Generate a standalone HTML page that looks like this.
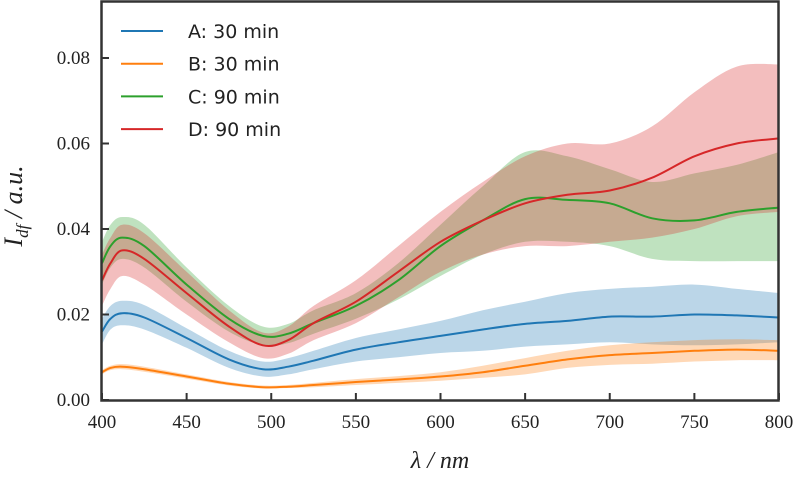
<!DOCTYPE html>
<html><head><meta charset="utf-8"><style>
body{margin:0;background:#fff;}
svg text{font-family:"Liberation Serif",serif;fill:#222;}
.leg{font-family:"DejaVu Sans","Liberation Sans",sans-serif;font-size:19px;}
</style></head><body>
<svg id="chart" width="798" height="474" viewBox="0 0 798 474">
<g id="bands"></g><g id="lines"></g>
<rect x="101.5" y="1.5" width="677" height="399" fill="none" stroke="#333" stroke-width="2.5"/>
<g id="ticks"></g>
<text x="16" y="200" font-size="26" font-style="italic" text-anchor="middle" transform="rotate(-90 22 200)">I<tspan font-size="17" dy="6">df</tspan><tspan dy="-6"> / a.u.</tspan></text>
<text x="440" y="468" font-size="24" font-style="italic" text-anchor="middle">λ / nm</text>
<g id="legend"></g>
</svg>
<script>
const wavelengths=[400,405,412,425,450,475,495,510,525,550,575,600,625,650,675,700,725,750,775,800];
const seriesNames=["A: 30 min","B: 30 min","C: 90 min","D: 90 min"];
const colors=["#1f77b4","#ff7f0e","#2ca02c","#d62728"];
const meanA=[0.016,0.019,0.0203,0.0193,0.0145,0.0095,0.0072,0.0078,0.0092,0.0118,0.0135,0.0150,0.0165,0.0178,0.0185,0.0195,0.0195,0.0200,0.0198,0.0193];
const loA=[0.013,0.0165,0.0175,0.0165,0.0122,0.0075,0.0055,0.006,0.0072,0.009,0.010,0.011,0.0115,0.0125,0.013,0.0135,0.013,0.0128,0.013,0.0135];
const hiA=[0.019,0.022,0.0232,0.0222,0.0168,0.0115,0.009,0.0098,0.0115,0.0145,0.0165,0.0185,0.021,0.023,0.025,0.026,0.0265,0.027,0.026,0.025];
const meanB=[0.0065,0.0075,0.0078,0.0072,0.0055,0.0038,0.003,0.0031,0.0035,0.0042,0.0048,0.0055,0.0065,0.008,0.0095,0.0105,0.011,0.0115,0.0118,0.0115];
const loB=[0.006,0.007,0.0072,0.0066,0.005,0.0034,0.0027,0.0028,0.003,0.0035,0.004,0.0045,0.0052,0.006,0.0075,0.0082,0.0085,0.009,0.0093,0.0093];
const hiB=[0.007,0.008,0.0084,0.0078,0.006,0.0042,0.0034,0.0035,0.004,0.0049,0.0056,0.0065,0.008,0.0098,0.0115,0.0128,0.0135,0.014,0.0142,0.014];
const meanC=[0.032,0.036,0.038,0.036,0.027,0.019,0.015,0.0155,0.018,0.022,0.028,0.036,0.042,0.047,0.0468,0.046,0.0425,0.042,0.044,0.045];
const loC=[0.027,0.031,0.033,0.031,0.023,0.016,0.0128,0.0133,0.0155,0.019,0.0235,0.029,0.034,0.037,0.037,0.036,0.033,0.0325,0.0325,0.0325];
const hiC=[0.037,0.041,0.0428,0.041,0.031,0.022,0.0172,0.0178,0.021,0.025,0.032,0.041,0.050,0.058,0.057,0.054,0.051,0.053,0.055,0.058];
const meanD=[0.028,0.032,0.035,0.033,0.025,0.0172,0.0128,0.014,0.018,0.023,0.030,0.037,0.042,0.046,0.048,0.049,0.052,0.057,0.060,0.0612];
const loD=[0.022,0.026,0.029,0.027,0.02,0.0135,0.0098,0.0108,0.014,0.018,0.024,0.030,0.034,0.036,0.036,0.037,0.038,0.040,0.043,0.044];
const hiD=[0.034,0.038,0.041,0.039,0.030,0.021,0.0158,0.0172,0.022,0.028,0.036,0.044,0.051,0.057,0.060,0.060,0.064,0.072,0.078,0.0785];
const xTicks=[400,450,500,550,600,650,700,750,800];
const yTicks=[0,0.02,0.04,0.06,0.08];
const yTickLabels=["0.00","0.02","0.04","0.06","0.08"];

const NS="http://www.w3.org/2000/svg";
const X=v=>102+(v-400)*(677/400);
const Y=v=>400-v*4275;
function curve(pts){
  let d="M"+pts[0][0].toFixed(1)+","+pts[0][1].toFixed(1);
  for(let i=0;i<pts.length-1;i++){
    const p0=pts[Math.max(i-1,0)],p1=pts[i],p2=pts[i+1],p3=pts[Math.min(i+2,pts.length-1)];
    const c1=[p1[0]+(p2[0]-p0[0])/6,p1[1]+(p2[1]-p0[1])/6];
    const c2=[p2[0]-(p3[0]-p1[0])/6,p2[1]-(p3[1]-p1[1])/6];
    d+=` C${c1[0].toFixed(1)},${c1[1].toFixed(1)} ${c2[0].toFixed(1)},${c2[1].toFixed(1)} ${p2[0].toFixed(1)},${p2[1].toFixed(1)}`;
  }
  return d;
}
const all=[[meanA,loA,hiA],[meanB,loB,hiB],[meanC,loC,hiC],[meanD,loD,hiD]];
const bands=document.getElementById("bands"),lines=document.getElementById("lines");
all.forEach((s,k)=>{
  const hi=wavelengths.map((w,i)=>[X(w),Y(s[2][i])]);
  const lo=wavelengths.map((w,i)=>[X(w),Y(s[1][i])]).reverse();
  const b=document.createElementNS(NS,"path");
  b.setAttribute("d",curve(hi)+" L"+curve(lo).slice(1)+" Z");
  b.setAttribute("fill",colors[k]);b.setAttribute("fill-opacity","0.3");
  
  
  bands.appendChild(b);
  const l=document.createElementNS(NS,"path");
  l.setAttribute("d",curve(wavelengths.map((w,i)=>[X(w),Y(s[0][i])])));
  l.setAttribute("fill","none");l.setAttribute("stroke",colors[k]);l.setAttribute("stroke-width","2");
  
  
  lines.appendChild(l);
});
const ticks=document.getElementById("ticks");
xTicks.forEach(t=>{
  const ln=document.createElementNS(NS,"line");
  ln.setAttribute("x1",X(t));ln.setAttribute("x2",X(t));ln.setAttribute("y1",400);ln.setAttribute("y2",393);
  ln.setAttribute("stroke","#333");ln.setAttribute("stroke-width","2");
  
  
  ticks.appendChild(ln);
  const tx=document.createElementNS(NS,"text");
  tx.setAttribute("x",X(t));tx.setAttribute("y",428);tx.setAttribute("text-anchor","middle");tx.setAttribute("font-size","19");
  tx.textContent=t;
  
  
  ticks.appendChild(tx);
});
yTicks.forEach((t,i)=>{
  const ln=document.createElementNS(NS,"line");
  ln.setAttribute("x1",102);ln.setAttribute("x2",109);ln.setAttribute("y1",Y(t));ln.setAttribute("y2",Y(t));
  ln.setAttribute("stroke","#333");ln.setAttribute("stroke-width","2");
  
  
  ticks.appendChild(ln);
  const tx=document.createElementNS(NS,"text");
  tx.setAttribute("x",90);tx.setAttribute("y",Y(t)+6);tx.setAttribute("text-anchor","end");tx.setAttribute("font-size","19");
  tx.textContent=yTickLabels[i];
  
  
  ticks.appendChild(tx);
});
const legend=document.getElementById("legend");
seriesNames.forEach((n,i)=>{
  const y=31+i*32.7;
  const ln=document.createElementNS(NS,"line");
  ln.setAttribute("x1",121);ln.setAttribute("x2",163);ln.setAttribute("y1",y);ln.setAttribute("y2",y);
  ln.setAttribute("stroke",colors[i]);ln.setAttribute("stroke-width","2");
  
  
  legend.appendChild(ln);
  const tx=document.createElementNS(NS,"text");
  tx.setAttribute("x",188);tx.setAttribute("y",y+7);tx.setAttribute("class","leg");
  tx.textContent=n;
  
  
  legend.appendChild(tx);
});
</script>
</body></html>
